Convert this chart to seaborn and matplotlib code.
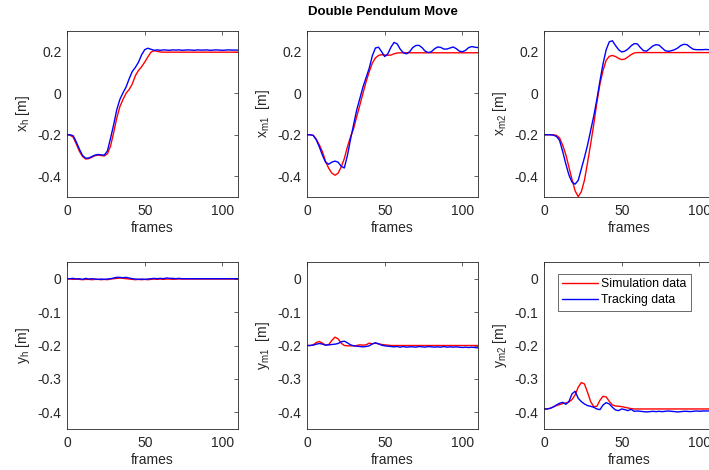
import matplotlib
matplotlib.use("Agg")
import matplotlib.pyplot as plt
import seaborn as sns
import pandas as pd

frames = list(range(0, 111, 2))

x_h_sim = [-0.200, -0.202, -0.212, -0.245, -0.280, -0.305, -0.317, -0.315, -0.308, -0.301,
           -0.298, -0.300, -0.302, -0.292, -0.255, -0.190, -0.120, -0.065, -0.030, 0.000,
           0.018, 0.045, 0.085, 0.110, 0.128, 0.150, 0.175, 0.198, 0.205, 0.202,
           0.199, 0.198, 0.198, 0.198, 0.198, 0.198, 0.198, 0.198, 0.198, 0.198,
           0.198, 0.198, 0.198, 0.198, 0.198, 0.198, 0.198, 0.198, 0.198, 0.198,
           0.198, 0.198, 0.198, 0.198, 0.198, 0.198]
x_h_trk = [-0.200, -0.200, -0.205, -0.235, -0.270, -0.300, -0.313, -0.312, -0.305, -0.298,
           -0.295, -0.297, -0.298, -0.278, -0.217, -0.152, -0.080, -0.030, 0.002, 0.030,
           0.070, 0.105, 0.125, 0.150, 0.185, 0.210, 0.217, 0.212, 0.207, 0.209,
           0.207, 0.209, 0.208, 0.207, 0.209, 0.208, 0.209, 0.207, 0.208, 0.209,
           0.208, 0.207, 0.209, 0.208, 0.208, 0.209, 0.207, 0.208, 0.209, 0.208,
           0.207, 0.208, 0.209, 0.208, 0.208, 0.208]

x_m1_sim = [-0.200, -0.200, -0.203, -0.222, -0.250, -0.283, -0.330, -0.362, -0.385, -0.395,
            -0.385, -0.355, -0.315, -0.258, -0.210, -0.170, -0.112, -0.057, 0.000, 0.055,
            0.103, 0.145, 0.170, 0.182, 0.186, 0.184, 0.183, 0.184, 0.190, 0.194,
            0.195, 0.195, 0.195, 0.195, 0.195, 0.195, 0.195, 0.195, 0.195, 0.195,
            0.195, 0.195, 0.195, 0.195, 0.195, 0.195, 0.195, 0.195, 0.195, 0.195,
            0.195, 0.195, 0.195, 0.195, 0.195, 0.195]
x_m1_trk = [-0.200, -0.200, -0.203, -0.225, -0.260, -0.300, -0.333, -0.342, -0.332, -0.327,
            -0.332, -0.352, -0.360, -0.300, -0.222, -0.150, -0.080, -0.025, 0.030, 0.075,
            0.120, 0.180, 0.218, 0.222, 0.200, 0.177, 0.190, 0.222, 0.245, 0.238,
            0.212, 0.195, 0.190, 0.200, 0.220, 0.230, 0.231, 0.220, 0.203, 0.196,
            0.200, 0.214, 0.223, 0.221, 0.213, 0.213, 0.218, 0.223, 0.215, 0.203,
            0.200, 0.207, 0.220, 0.225, 0.222, 0.220]

x_m2_sim = [-0.200, -0.200, -0.200, -0.200, -0.203, -0.215, -0.250, -0.295, -0.355, -0.415,
            -0.470, -0.498, -0.475, -0.420, -0.335, -0.245, -0.150, -0.045, 0.045, 0.111,
            0.159, 0.178, 0.182, 0.177, 0.168, 0.162, 0.165, 0.175, 0.186, 0.194,
            0.196, 0.196, 0.196, 0.196, 0.196, 0.196, 0.196, 0.196, 0.196, 0.196,
            0.196, 0.196, 0.196, 0.196, 0.196, 0.196, 0.196, 0.196, 0.196, 0.196,
            0.196, 0.196, 0.196, 0.196, 0.196, 0.196]
x_m2_trk = [-0.200, -0.200, -0.200, -0.202, -0.208, -0.227, -0.280, -0.340, -0.393, -0.428,
            -0.438, -0.420, -0.365, -0.310, -0.250, -0.180, -0.110, -0.030, 0.060, 0.143,
            0.210, 0.248, 0.253, 0.230, 0.210, 0.199, 0.203, 0.213, 0.228, 0.239,
            0.238, 0.220, 0.205, 0.203, 0.215, 0.228, 0.234, 0.232, 0.218, 0.205,
            0.202, 0.205, 0.210, 0.218, 0.230, 0.236, 0.234, 0.222, 0.212, 0.210,
            0.210, 0.210, 0.211, 0.210, 0.210, 0.209]

y_h_sim = [-0.001, -0.001, -0.002, -0.001, -0.002, -0.003, -0.002, -0.002, -0.003, -0.002,
           -0.002, -0.003, -0.002, -0.003, -0.001, 0.000, 0.001, 0.002, 0.001, 0.000,
           -0.001, -0.002, -0.003, -0.002, -0.003, -0.002, -0.003, -0.002, -0.001, -0.002,
           -0.001, -0.002, -0.001, -0.001, -0.002, -0.001, -0.001, -0.001, -0.001, -0.001,
           -0.001, -0.001, -0.001, -0.001, -0.001, -0.001, -0.001, -0.001, -0.001, -0.001,
           -0.001, -0.001, -0.001, -0.001, -0.001, -0.001]
y_h_trk = [0.000, 0.000, 0.001, -0.001, 0.000, -0.002, 0.001, -0.001, 0.000, -0.001,
           -0.002, -0.001, -0.002, -0.001, 0.000, 0.002, 0.004, 0.004, 0.003, 0.004,
           0.002, 0.000, -0.001, -0.002, -0.001, -0.002, -0.001, 0.000, 0.001, 0.000,
           0.001, 0.000, 0.002, 0.001, 0.001, 0.000, 0.001, 0.000, 0.000, 0.000,
           0.000, 0.000, 0.000, 0.000, 0.000, 0.000, 0.000, 0.000, 0.000, 0.000,
           0.000, 0.000, 0.000, 0.000, 0.000, 0.000]

y_m1_sim = [-0.200, -0.200, -0.198, -0.191, -0.188, -0.193, -0.199, -0.197, -0.185, -0.175,
            -0.180, -0.193, -0.200, -0.201, -0.201, -0.201, -0.200, -0.198, -0.199, -0.198,
            -0.193, -0.195, -0.193, -0.195, -0.197, -0.198, -0.199, -0.200, -0.200, -0.200,
            -0.200, -0.200, -0.200, -0.200, -0.200, -0.200, -0.200, -0.200, -0.200, -0.200,
            -0.200, -0.200, -0.200, -0.200, -0.200, -0.200, -0.200, -0.200, -0.200, -0.200,
            -0.200, -0.200, -0.200, -0.200, -0.200, -0.200]
y_m1_trk = [-0.200, -0.200, -0.199, -0.196, -0.194, -0.196, -0.199, -0.198, -0.197, -0.196,
            -0.194, -0.189, -0.187, -0.192, -0.198, -0.201, -0.202, -0.203, -0.204, -0.203,
            -0.201, -0.195, -0.192, -0.195, -0.199, -0.201, -0.202, -0.203, -0.204, -0.203,
            -0.205, -0.203, -0.205, -0.204, -0.204, -0.205, -0.203, -0.204, -0.205, -0.203,
            -0.204, -0.205, -0.204, -0.205, -0.203, -0.205, -0.204, -0.205, -0.204, -0.205,
            -0.206, -0.205, -0.206, -0.205, -0.206, -0.207]

y_m2_sim = [-0.390, -0.390, -0.388, -0.384, -0.380, -0.377, -0.374, -0.372, -0.369, -0.362,
            -0.348, -0.325, -0.311, -0.315, -0.340, -0.368, -0.383, -0.382, -0.364, -0.352,
            -0.354, -0.367, -0.378, -0.381, -0.382, -0.383, -0.385, -0.387, -0.389, -0.390,
            -0.390, -0.390, -0.390, -0.390, -0.390, -0.390, -0.390, -0.390, -0.390, -0.390,
            -0.390, -0.390, -0.390, -0.390, -0.390, -0.390, -0.390, -0.390, -0.390, -0.390,
            -0.390, -0.390, -0.390, -0.390, -0.390, -0.390]
y_m2_trk = [-0.390, -0.390, -0.388, -0.384, -0.378, -0.373, -0.370, -0.376, -0.368, -0.345,
            -0.337, -0.358, -0.368, -0.375, -0.380, -0.382, -0.385, -0.390, -0.392, -0.378,
            -0.371, -0.375, -0.385, -0.393, -0.395, -0.390, -0.392, -0.395, -0.391, -0.397,
            -0.396, -0.397, -0.398, -0.399, -0.398, -0.397, -0.398, -0.397, -0.398, -0.397,
            -0.396, -0.397, -0.398, -0.399, -0.398, -0.397, -0.397, -0.398, -0.397, -0.396,
            -0.397, -0.396, -0.396, -0.396, -0.396, -0.396]

series_names = ["Simulation data", "Tracking data"]
colors = {"Simulation data": "#ff0000", "Tracking data": "#0000ff"}

panels = [
    (x_h_sim, x_h_trk, r"$\mathregular{x_{h}}$ [m]", "top"),
    (x_m1_sim, x_m1_trk, r"$\mathregular{x_{m1}}$  [m]", "top"),
    (x_m2_sim, x_m2_trk, r"$\mathregular{x_{m2}}$ [m]", "top"),
    (y_h_sim, y_h_trk, r"$\mathregular{y_{h}}$ [m]", "bottom"),
    (y_m1_sim, y_m1_trk, r"$\mathregular{y_{m1}}$  [m]", "bottom"),
    (y_m2_sim, y_m2_trk, r"$\mathregular{y_{m2}}$ [m]", "bottom"),
]

sns.set_theme(style="white")
plt.rcParams["font.family"] = ["Liberation Sans", "DejaVu Sans"]
plt.rcParams["mathtext.default"] = "regular"

W, H = 709, 470
fig = plt.figure(figsize=(W / 100, H / 100), dpi=100)

lefts = [67, 307, 544]
aw = 171
rows = {"top": (31, 197), "bottom": (262, 429)}
dark = "#262626"

for i, (sim, trk, ylab, row) in enumerate(panels):
    top, bot = rows[row]
    left = lefts[i % 3]
    ax = fig.add_axes([left / W, 1 - bot / H, aw / W, (bot - top) / H])
    df = pd.DataFrame({
        "frame": frames + frames,
        "value": sim + trk,
        "source": [series_names[0]] * len(frames) + [series_names[1]] * len(frames),
    })
    sns.lineplot(data=df, x="frame", y="value", hue="source", hue_order=series_names,
                 palette=colors, ax=ax, legend=False, linewidth=1.0, sort=False)
    ax.set_xlim(0, 110)
    ax.set_xticks([0, 50, 100])
    if row == "top":
        ax.set_ylim(-0.5, 0.3)
        ax.set_yticks([-0.4, -0.2, 0, 0.2])
        ax.set_yticklabels(["-0.4", "-0.2", "0", "0.2"])
    else:
        ax.set_ylim(-0.45, 0.05)
        ax.set_yticks([-0.4, -0.3, -0.2, -0.1, 0])
        ax.set_yticklabels(["-0.4", "-0.3", "-0.2", "-0.1", "0"])
    ax.tick_params(direction="in", top=True, right=True, length=3, width=0.5,
                   labelsize=10, colors=dark, labelcolor=dark)
    ax.tick_params(axis="x", pad=5)
    ax.tick_params(axis="y", pad=4)
    for s in ax.spines.values():
        s.set_color(dark)
        s.set_linewidth(0.6)
        s.set_visible(True)
    ax.set_xlabel("frames", fontsize=10, color=dark, labelpad=2)
    ax.set_ylabel(ylab, fontsize=10, color=dark, labelpad=4)
    if i == 5:
        handles = ax.get_lines()[:2]
        leg = ax.legend(handles, series_names, loc="upper left",
                        bbox_to_anchor=(0.082, 0.93), fontsize=8.8,
                        frameon=True, fancybox=False, handlelength=2.9,
                        handletextpad=0.3, borderpad=0.35, labelspacing=0.35,
                        borderaxespad=0)
        leg.get_frame().set_edgecolor(dark)
        leg.get_frame().set_linewidth(0.6)
        for t in leg.get_texts():
            t.set_color("black")

fig.text(383 / W, 1 - 12 / H, "Double Pendulum Move", ha="center", va="center",
         fontsize=9.5, fontweight="bold", color="black")

fig.savefig("out.png", dpi=100)
